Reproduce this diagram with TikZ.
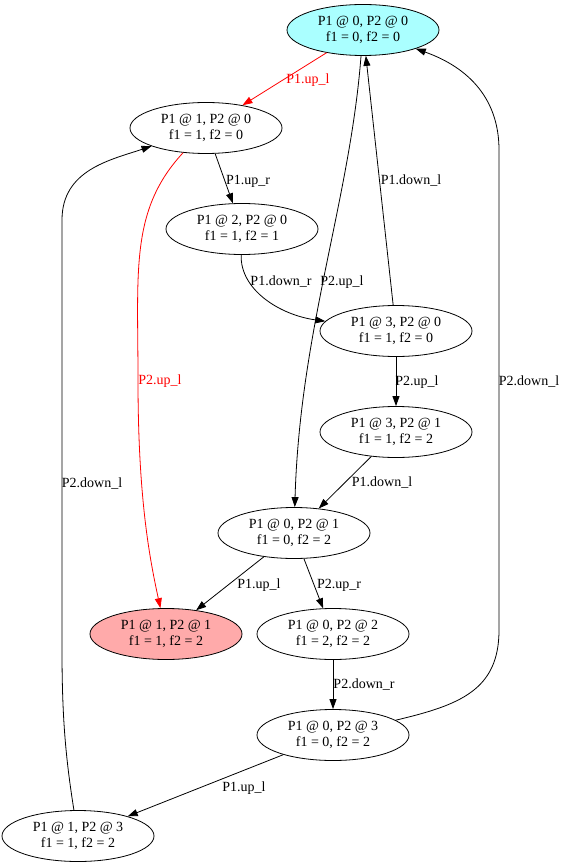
\documentclass[tikz,border=0pt]{standalone}
\usepackage{fontspec}
\setmainfont{Liberation Serif}
\usetikzlibrary{shapes.geometric,arrows.meta}
\definecolor{cyfill}{HTML}{AAFFFF}
\definecolor{pkfill}{HTML}{FFAAAA}
\definecolor{edgered}{HTML}{FF0000}
\begin{document}
\begin{tikzpicture}[x=1pt,y=-1pt,
  st/.style={ellipse,draw,line width=0.8pt,minimum width=152pt,minimum height=51pt,inner sep=0pt,align=center,font=\fontsize{14}{16}\selectfont},
  lab/.style={font=\fontsize{14}{16}\selectfont,inner sep=0pt},
  conn/.style={draw,line width=0.8pt,-{Triangle[length=10pt,width=7pt]}}]
\useasboundingbox (0,0) rectangle (563,866);
\node[st,fill=cyfill] (n00) at (363,30) {P1 @ 0, P2 @ 0\\f1 = 0, f2 = 0};
\node[st] (n10) at (206,128) {P1 @ 1, P2 @ 0\\f1 = 1, f2 = 0};
\node[st] (n20) at (242,229) {P1 @ 2, P2 @ 0\\f1 = 1, f2 = 1};
\node[st] (n30) at (396,331) {P1 @ 3, P2 @ 0\\f1 = 1, f2 = 0};
\node[st] (n31) at (396,432) {P1 @ 3, P2 @ 1\\f1 = 1, f2 = 2};
\node[st] (n01) at (294,533) {P1 @ 0, P2 @ 1\\f1 = 0, f2 = 2};
\node[st,fill=pkfill] (n11) at (166,634) {P1 @ 1, P2 @ 1\\f1 = 1, f2 = 2};
\node[st] (n02) at (333,634) {P1 @ 0, P2 @ 2\\f1 = 2, f2 = 2};
\node[st] (n03) at (333,735) {P1 @ 0, P2 @ 3\\f1 = 0, f2 = 2};
\node[st] (n13) at (78,836) {P1 @ 1, P2 @ 3\\f1 = 1, f2 = 2};

% edges
\draw[conn,edgered] (n00) -- (n10);
\node[lab,text=edgered] (l1) at (308,80) {P1.up\_l};
\draw[conn] (n10) -- (n20);
\node[lab] (l2) at (248,181) {P1.up\_r};
\draw[conn,edgered] (n10) .. controls (130,210) and (138,270) .. (138,380) .. controls (138,500) and (150,560) .. (n11);
\node[lab,text=edgered] (l3) at (160,381) {P2.up\_l};
\draw[conn] (n20) .. controls (240,290) and (280,315) .. (n30);
\node[lab] (l4) at (281,282) {P1.down\_r};
\draw[conn] (n00) .. controls (350,200) and (300,330) .. (n01);
\node[lab] (l5) at (342,282) {P2.up\_l};
\draw[conn] (n30) -- (n00);
\node[lab] (l6) at (411,181) {P1.down\_l};
\draw[conn] (n30) -- (n31);
\node[lab] (l7) at (417,382) {P2.up\_l};
\draw[conn] (n31) -- (n01);
\node[lab] (l8) at (382,483) {P1.down\_l};
\draw[conn] (n01) -- (n11);
\node[lab] (l9) at (259,585) {P1.up\_l};
\draw[conn] (n01) -- (n02);
\node[lab] (l10) at (339,585) {P2.up\_r};
\draw[conn] (n02) -- (n03);
\node[lab] (l11) at (364,685) {P2.down\_r};
\draw[conn] (n03) .. controls (460,705) and (499,690) .. (499,630) -- (499,150) .. controls (499,100) and (470,68) .. (n00);
\node[lab] (l12) at (529,382) {P2.down\_l};
\draw[conn] (n03) -- (n13);
\node[lab] (l13) at (244,788) {P1.up\_l};
\draw[conn] (n13) .. controls (66,760) and (62,720) .. (62,650) -- (62,220) .. controls (62,170) and (110,160) .. (n10);
\node[lab] (l14) at (92,484) {P2.down\_l};
\end{tikzpicture}
\end{document}
